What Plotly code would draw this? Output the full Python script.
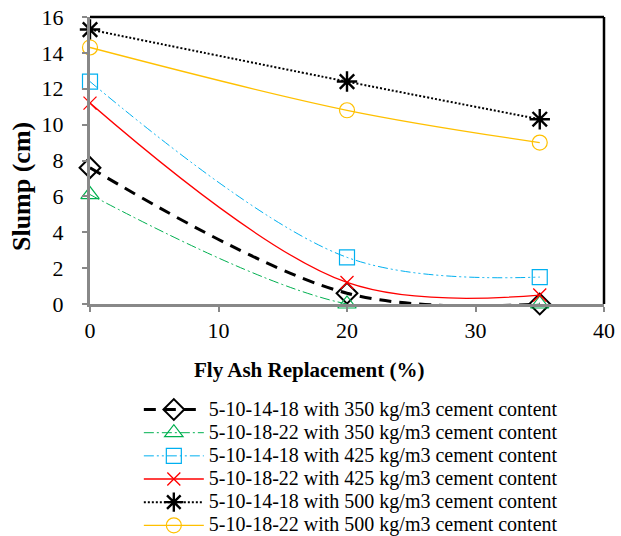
import plotly.graph_objects as go

fly_ash = [0, 20, 35]
names = [
    "5-10-14-18 with 350 kg/m3 cement content",
    "5-10-18-22 with 350 kg/m3 cement content",
    "5-10-14-18 with 425 kg/m3 cement content",
    "5-10-18-22 with 425 kg/m3 cement content",
    "5-10-14-18 with 500 kg/m3 cement content",
    "5-10-18-22 with 500 kg/m3 cement content",
]
s350_a = [7.6, 0.6, 0.0]
s350_b = [6.1, 0.0, 0.0]
s425_a = [12.4, 2.6, 1.5]
s425_b = [11.2, 1.2, 0.5]
s500_a = [15.3, 12.4, 10.3]
s500_b = [14.3, 10.8, 9.0]
x_ticks = [0, 10, 20, 30, 40]
y_ticks = [0, 2, 4, 6, 8, 10, 12, 14, 16]
x_title = "Fly Ash Replacement (%)"
y_title = "Slump (cm)"

series = [s350_a, s350_b, s425_a, s425_b, s500_a, s500_b]
styles = [
    dict(color="black", width=3, dash="12px,8px", symbol="diamond-open", size=16, mw=2),
    dict(color="#00B050", width=1, dash="10px,3px,2px,3px", symbol="triangle-up-open", size=16, mw=1.2),
    dict(color="#00B0F0", width=1, dash="10px,3px,2px,3px,2px,3px", symbol="square-open", size=15, mw=1.2),
    dict(color="#FF0000", width=1.3, dash="solid", symbol="x-thin-open", size=13, mw=1.3),
    dict(color="black", width=2, dash="2px,2px", symbol="asterisk-open", size=17, mw=2.4),
    dict(color="#FFC000", width=1.3, dash="solid", symbol="circle-open", size=15, mw=1.2),
]

SERIF = "Liberation Serif"

fig = go.Figure()
for name, ys, st in zip(names, series, styles):
    fig.add_trace(go.Scatter(
        x=fly_ash, y=ys,
        name='<span style="font-size:20px">' + name + '</span>',
        mode="lines+markers",
        line=dict(color=st["color"], width=st["width"], dash=st["dash"], shape="spline", smoothing=1.0),
        marker=dict(symbol=st["symbol"], size=st["size"], color=st["color"],
                    line=dict(color=st["color"], width=st["mw"])),
        cliponaxis=False,
    ))

axis_font = dict(family=SERIF, size=22, color="black")
fig.update_layout(
    width=621, height=536,
    margin=dict(l=90, r=17, t=17, b=232, autoexpand=False),
    paper_bgcolor="white", plot_bgcolor="white",
    font=dict(family=SERIF, color="black"),
    xaxis=dict(range=[0, 40], tickvals=x_ticks, showgrid=False, zeroline=False,
               showline=True, linecolor="#888888", linewidth=3, ticks="outside",
               tickcolor="#888888", ticklen=5, tickwidth=2, tickfont=axis_font, automargin=False),
    yaxis=dict(range=[0, 16], tickvals=y_ticks, ticktext=[str(v) for v in y_ticks],
               showgrid=False, zeroline=False,
               showline=True, linecolor="#888888", linewidth=3, ticks="outside",
               tickcolor="#888888", ticklen=5, tickwidth=2, tickfont=axis_font, automargin=False,
               ticklabelposition="outside", ticklabelstandoff=14),
    legend=dict(orientation="v", x=0.095, xanchor="left", y=-0.31, yanchor="top",
                font=dict(family=SERIF, size=15.5, color="black"),
                tracegroupgap=0, itemwidth=60, bgcolor="rgba(0,0,0,0)"),
    showlegend=True,
)
fig.add_annotation(text="<b>" + x_title + "</b>", xref="paper", yref="paper",
                   x=0.426, y=-0.23, xanchor="center", yanchor="middle", showarrow=False,
                   font=dict(family=SERIF, size=21, color="black"))
fig.add_annotation(text="<b>" + y_title + "</b>", xref="paper", yref="paper",
                   x=-0.132, y=0.408, xanchor="center", yanchor="middle", showarrow=False,
                   textangle=-90, font=dict(family=SERIF, size=26, color="black"))
fig.add_shape(type="line", xref="paper", yref="paper", x0=0, x1=1, y0=1, y1=1,
              line=dict(color="black", width=2.5))
fig.add_shape(type="line", xref="paper", yref="paper", x0=1, x1=1, y0=0, y1=1,
              line=dict(color="black", width=2.5))

fig.write_html("out.html")
